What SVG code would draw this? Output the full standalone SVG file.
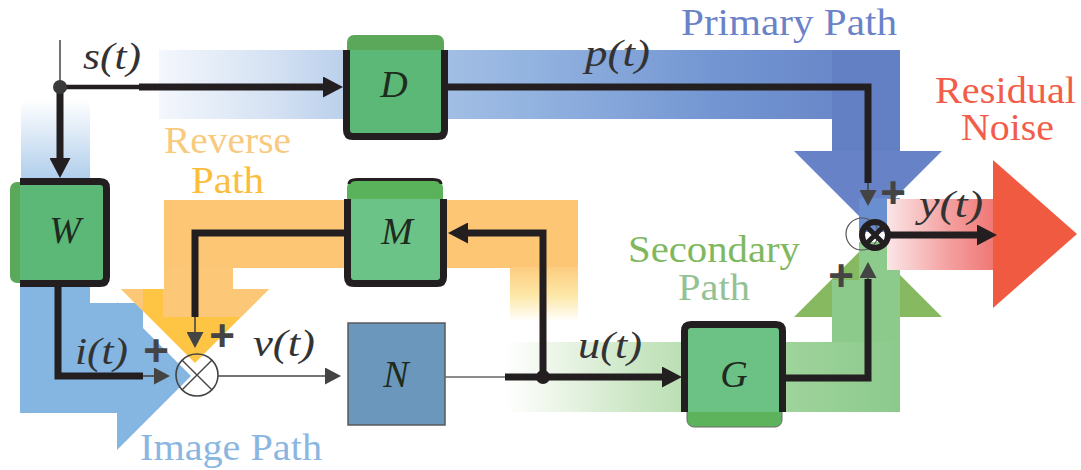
<svg xmlns="http://www.w3.org/2000/svg" width="1081" height="470" viewBox="0 0 1081 470">
<style>
.blk{fill:none;stroke:#231f20;stroke-width:7;stroke-linejoin:miter;stroke-linecap:butt}
.thin{fill:none;stroke:#444;stroke-width:1.6}
.lbl{font-family:"Liberation Serif",serif;font-size:37px}
.math{font-family:"Liberation Serif",serif;font-style:italic;font-size:38px;fill:#333}
.var{font-family:"Liberation Serif",serif;font-style:italic;font-size:38px;fill:#1e2b1e;text-anchor:middle}
.plus{font-family:"Liberation Sans",sans-serif;font-weight:bold;font-size:44px;fill:#444;text-anchor:middle}
.frame{fill:none;stroke:#231f20;stroke-width:7}
</style>
<defs>
<linearGradient id="gPrim" gradientUnits="userSpaceOnUse" x1="159" y1="0" x2="900" y2="0">
<stop offset="0" stop-color="#f4f7fc"/><stop offset="0.15" stop-color="#d5e2f3"/><stop offset="0.3" stop-color="#aec7e8"/><stop offset="0.5" stop-color="#93b3e0"/><stop offset="0.75" stop-color="#7396d2"/><stop offset="1" stop-color="#6480c4"/>
</linearGradient>
<linearGradient id="gS" gradientUnits="userSpaceOnUse" x1="0" y1="100" x2="0" y2="180">
<stop offset="0" stop-color="#ffffff"/><stop offset="1" stop-color="#afcdec"/>
</linearGradient>
<linearGradient id="gRevV" gradientUnits="userSpaceOnUse" x1="0" y1="262" x2="0" y2="322">
<stop offset="0" stop-color="#fcc878"/><stop offset="0.55" stop-color="#fde7a6"/><stop offset="1" stop-color="#ffffff"/>
</linearGradient>
<linearGradient id="gSec" gradientUnits="userSpaceOnUse" x1="505" y1="0" x2="900" y2="0">
<stop offset="0" stop-color="#ffffff"/><stop offset="0.12" stop-color="#eef6ea"/><stop offset="0.35" stop-color="#c8e5c1"/><stop offset="0.6" stop-color="#a6d7a1"/><stop offset="1" stop-color="#8cca8c"/>
</linearGradient>
<linearGradient id="gRes" gradientUnits="userSpaceOnUse" x1="887" y1="0" x2="1009" y2="0">
<stop offset="0" stop-color="#fbe6e7"/><stop offset="0.5" stop-color="#f4a0a0"/><stop offset="1" stop-color="#ee6a66"/>
</linearGradient>
<clipPath id="cRevTri"><polygon points="121,289 269,289 195,363"/></clipPath>
<clipPath id="cRight"><rect x="859" y="200" width="60" height="70"/></clipPath>
<marker id="ab" markerUnits="userSpaceOnUse" markerWidth="20" markerHeight="21" refX="0" refY="10.5" orient="auto" viewBox="0 0 20 21"><path d="M0 0 L20 10.5 L0 21 Z" fill="#231f20"/></marker>
<marker id="ag" markerUnits="userSpaceOnUse" markerWidth="16" markerHeight="17" refX="0" refY="8.5" orient="auto" viewBox="0 0 16 17"><path d="M0 0 L16 8.5 L0 17 Z" fill="#444"/></marker>
</defs>

<g id="paths-background">
<!-- Primary path (blue) -->
<rect x="159" y="50" width="741" height="69" fill="url(#gPrim)"/>
<polygon points="794,151 942,151 868,225" fill="#6782c7"/>
<rect x="832" y="50" width="68" height="101" fill="#6480c4"/>
<rect x="859" y="198" width="41" height="34" fill="#6a8fd0"/>
<!-- s(t) strip -->
<rect x="21" y="100" width="69" height="84" fill="url(#gS)"/>
<!-- Image path (light blue) -->
<rect x="20" y="284" width="70" height="129" fill="#85b5e1"/>
<rect x="20" y="303" width="123" height="110" fill="#85b5e1"/>
<polygon points="117,302 117,450 191,376" fill="#85b5e1"/>
<!-- Reverse path (orange) -->
<rect x="164" y="200" width="414" height="68" fill="#fcc674"/>
<rect x="510" y="267" width="68" height="55" fill="url(#gRevV)"/>
<rect x="164" y="267" width="69" height="50" fill="#fcc776"/>
<polygon points="121,289 269,289 195,363" fill="#fec444"/>
<g clip-path="url(#cRevTri)" fill="#fcc776">
<rect x="100" y="280" width="43" height="37"/>
<rect x="163" y="280" width="140" height="37"/>
</g>
<!-- Secondary path (green) -->
<rect x="505" y="342" width="395" height="70" fill="url(#gSec)"/>
<polygon points="794,317 942,317 868,243" fill="#86b960"/>
<rect x="832" y="280" width="68" height="62" fill="#8cca8c"/>
<rect x="859" y="242" width="41" height="38" fill="#8ccb8c"/>
<!-- Residual noise (red) -->
<rect x="887" y="199" width="122" height="71" fill="url(#gRes)"/>
<polygon points="993,160 993,308 1077,234" fill="#f05a40"/>
</g>

<g id="node-D">
<rect x="347" y="35" width="97" height="30" rx="7" fill="#5ba85a"/>
<rect x="347" y="50" width="97" height="88" rx="5" fill="#5bb877"/>
<path class="frame" d="M346.5 50 V130 Q346.5 136.5 353 136.5 H438 Q444.5 136.5 444.5 130 V50"/>
<text class="var" x="394" y="97">D</text>
</g>

<g id="node-W">
<rect x="10" y="182" width="24" height="101" rx="7" fill="#5aa85a"/>
<rect x="20" y="181" width="87" height="103" fill="#5bb877"/>
<path class="frame" d="M20 181.5 H100 Q106.5 181.5 106.5 188 V277 Q106.5 283.5 100 283.5 H20"/>
<text class="var" x="65" y="243">W</text>
</g>

<g id="node-M">
<rect x="347" y="180" width="96" height="30" rx="8" fill="#5ab35a"/>
<path d="M349 184 Q349 179.5 357 179.5 H433 Q441 179.5 441 184" fill="none" stroke="#231f20" stroke-width="3"/>
<rect x="347" y="199" width="96" height="84" rx="4" fill="#6cc387"/>
<path class="frame" d="M347.5 199 V277 Q347.5 283.5 354 283.5 H437 Q443.5 283.5 443.5 277 V199"/>
<text class="var" x="397" y="244">M</text>
</g>

<g id="node-N">
<rect x="348" y="323" width="97" height="102" fill="#6a97bb" stroke="#5a5a5a" stroke-width="1.5"/>
<text class="var" x="396" y="387">N</text>
</g>

<g id="node-G">
<rect x="687" y="398" width="95" height="29" rx="7" fill="#5cb35c" stroke="#6a6a6a" stroke-width="1"/>
<rect x="684" y="324" width="98" height="88" fill="#6cc285"/>
<path class="frame" d="M684.5 412 V331 Q684.5 324.5 691 324.5 H776 Q782.5 324.5 782.5 331 V412"/>
<text class="var" x="734" y="387">G</text>
</g>

<g id="sum-left">
<circle cx="197" cy="375" r="21" fill="none" stroke="#444" stroke-width="1.6"/>
<path d="M182.2 360.2 L211.8 389.8 M211.8 360.2 L182.2 389.8" stroke="#444" stroke-width="1.4"/>
</g>

<g id="sum-right">
<circle cx="862" cy="234" r="16" fill="none" stroke="#555" stroke-width="1.2"/>
<g clip-path="url(#cRight)">
<circle cx="875" cy="235" r="13" fill="none" stroke="#231f20" stroke-width="6"/>
<path d="M866 226 L884 244 M884 226 L866 244" stroke="#231f20" stroke-width="5"/>
</g>
</g>

<g id="connectors">
<line x1="60" y1="40" x2="60" y2="87" stroke="#444" stroke-width="1.5"/>
<path d="M60 87 H139" fill="none" stroke="#231f20" stroke-width="4.5"/>
<path class="blk" d="M139 87 H323" marker-end="url(#ab)"/>
<path class="blk" d="M60 87 V158" marker-end="url(#ab)"/>
<circle cx="60" cy="87" r="7" fill="#3a3a3a"/>
<path class="blk" d="M448 87 H868 V183"/>
<path class="thin" d="M868 183 V190" marker-end="url(#ag)"/>
<path class="blk" d="M58 285 V376 H143"/>
<path class="thin" d="M143 376 H154" marker-end="url(#ag)"/>
<path class="blk" d="M344 233 H195 V317"/>
<path class="thin" d="M195 317 V332" marker-end="url(#ag)"/>
<path class="thin" d="M218 376 H325" marker-end="url(#ag)"/>
<path d="M445 377 H505" fill="none" stroke="#666" stroke-width="1.5"/>
<path class="blk" d="M505 377 H662" marker-end="url(#ab)"/>
<path class="blk" d="M543 377 V233 H468" marker-end="url(#ab)"/>
<circle cx="543" cy="377" r="7" fill="#231f20"/>
<path class="blk" d="M786 378 H868 V279"/>
<path class="thin" d="M868 279 V278" marker-end="url(#ag)"/>
<path class="blk" d="M890 235 H977" marker-end="url(#ab)"/>
</g>

<g id="labels">
<text class="lbl" x="681" y="35" textLength="216" lengthAdjust="spacingAndGlyphs" fill="#6a82c8">Primary Path</text>
<text class="lbl" x="935" y="103" textLength="141" lengthAdjust="spacingAndGlyphs" fill="#f25c48">Residual</text>
<text class="lbl" x="961" y="140" textLength="93" lengthAdjust="spacingAndGlyphs" fill="#f25c48">Noise</text>
<text class="lbl" x="164" y="153" textLength="127" lengthAdjust="spacingAndGlyphs" fill="#f8ca7e">Reverse</text>
<text class="lbl" x="191" y="193" textLength="73" lengthAdjust="spacingAndGlyphs" fill="#fbbd3c">Path</text>
<text class="lbl" x="628" y="262" textLength="172" lengthAdjust="spacingAndGlyphs" fill="#80b860">Secondary</text>
<text class="lbl" x="678" y="300" textLength="72" lengthAdjust="spacingAndGlyphs" fill="#93c295">Path</text>
<text class="lbl" x="140" y="460" textLength="182" lengthAdjust="spacingAndGlyphs" fill="#8ab6e2">Image Path</text>
<text class="math" x="83" y="69" textLength="58" lengthAdjust="spacingAndGlyphs">s(t)</text>
<text class="math" x="585" y="66" textLength="65" lengthAdjust="spacingAndGlyphs">p(t)</text>
<text class="math" x="919" y="217" textLength="64" lengthAdjust="spacingAndGlyphs">y(t)</text>
<text class="math" x="75" y="364" textLength="53" lengthAdjust="spacingAndGlyphs">i(t)</text>
<text class="math" x="253" y="356" textLength="62" lengthAdjust="spacingAndGlyphs">v(t)</text>
<text class="math" x="578" y="358" textLength="64" lengthAdjust="spacingAndGlyphs">u(t)</text>
<text class="plus" x="156" y="366">+</text>
<text class="plus" x="222" y="351">+</text>
<text class="plus" x="893" y="208">+</text>
<text class="plus" x="841" y="291">+</text>
</g>
</svg>
